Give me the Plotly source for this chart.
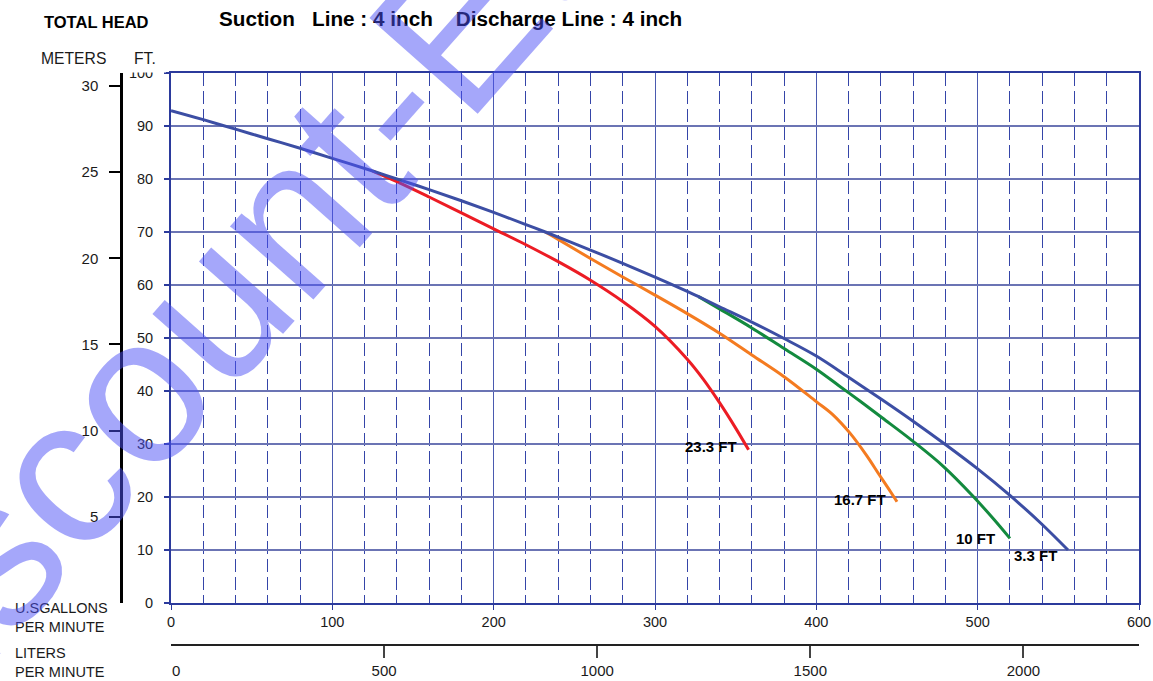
import plotly.graph_objects as go

# ---------------- data ----------------
gpm_ticks = [0, 100, 200, 300, 400, 500, 600]
ft_ticks = [0, 10, 20, 30, 40, 50, 60, 70, 80, 90, 100]
meter_ticks = [5, 10, 15, 20, 25, 30]
liter_ticks = [500, 1000, 1500, 2000]

# suction lift 3.3 FT
q_33 = [0, 20, 40, 60, 80, 100, 125, 140, 160, 180, 200, 220, 232, 260, 280, 300, 320, 327,
        340, 360, 380, 400, 420, 441, 460, 480, 500, 520, 539, 556]
h_33 = [92.9, 91.2, 89.4, 87.6, 85.8, 83.9, 81.5, 80.0, 78.0, 75.9, 73.7, 71.4, 70.0, 66.6, 64.1,
        61.5, 58.8, 57.8, 55.9, 53.0, 49.9, 46.6, 42.6, 38.3, 34.3, 29.9, 25.3, 20.3, 15.1, 10.0]
# suction lift 10 FT
q_10 = [327, 340, 360, 380, 400, 414, 427, 441, 460, 479, 497, 510, 520]
h_10 = [57.8, 55.5, 51.9, 48.0, 44.1, 41.0, 38.1, 34.9, 30.5, 25.7, 20.2, 15.8, 12.2]
# suction lift 16.7 FT
q_167 = [232, 240, 260, 280, 300, 320, 340, 360, 380, 400, 410, 421, 431, 439, 446, 450]
h_167 = [70.0, 68.6, 65.0, 61.5, 58.1, 54.6, 50.9, 46.8, 42.7, 38.0, 35.6, 32.0, 27.9, 24.2, 21.0, 19.1]
# suction lift 23.3 FT
q_233 = [125, 140, 160, 180, 200, 220, 240, 260, 280, 300, 320, 330, 340, 350, 358]
h_233 = [81.5, 79.5, 76.6, 73.6, 70.6, 67.6, 64.4, 60.9, 56.9, 52.2, 46.0, 42.2, 37.8, 33.0, 28.9]

series_names = ["23.3 FT", "16.7 FT", "10 FT", "3.3 FT"]
series_colors = ["#ec1c24", "#f47b20", "#138a3e", "#3c4ea4"]

L_PER_GAL = 3.78541
METER_TOP = 30.75  # meters scale top as drawn on the chart

# ---------------- layout helpers ----------------
W, H = 1153, 681
ML, MR, MT, MB = 0, 14, 73, 5
PW, PH = W - ML - MR, H - MT - MB


def px(x):
    return (x - ML) / PW


def py(y):
    return (H - MB - y) / PH


NAVY = "#2b3a9c"
FONT = "Liberation Sans, Arial, sans-serif"

fig = go.Figure()

curves = [(q_233, h_233), (q_167, h_167), (q_10, h_10), (q_33, h_33)]
for (q, h), name, col in zip(curves, series_names, series_colors):
    fig.add_trace(go.Scatter(x=q, y=h, mode="lines", name=name,
                             line=dict(color=col, width=3, shape="spline", smoothing=1.0),
                             showlegend=False, hoverinfo="skip"))

# dummy traces to attach secondary axes
fig.add_trace(go.Scatter(x=[None], y=[None], xaxis="x", yaxis="y2", showlegend=False, hoverinfo="skip"))
fig.add_trace(go.Scatter(x=[None], y=[None], xaxis="x2", yaxis="y", showlegend=False, hoverinfo="skip"))

x0dom = (171 - ML) / PW
ybot = py(603)

fig.update_layout(
    width=W, height=H, template="none",
    margin=dict(l=ML, r=MR, t=MT, b=MB),
    paper_bgcolor="white", plot_bgcolor="white",
    font=dict(family=FONT, color="#1a1a1a"),
    xaxis=dict(domain=[x0dom, 1], range=[0, 600], tickvals=gpm_ticks,
               showgrid=True, gridcolor="#4a5ab0", gridwidth=1.2,
               showline=True, linecolor=NAVY, linewidth=2, mirror=True,
               ticks="outside", ticklen=5, tickcolor=NAVY, tickwidth=1,
               tickfont=dict(size=14.5, color="#1a1a1a"), zeroline=False,
               minor=dict(dtick=20, tick0=0, showgrid=True, gridcolor="#3545a8",
                          griddash="13px,5px", gridwidth=1, ticks="")),
    yaxis=dict(domain=[ybot, 1], range=[0, 100], tickvals=ft_ticks,
               showgrid=True, gridcolor="#6b74b4", gridwidth=1.5,
               showline=True, linecolor=NAVY, linewidth=2, mirror=True,
               ticks="outside", ticklen=5, tickcolor=NAVY, tickwidth=1.5,
               ticklabelstandoff=8,
               tickfont=dict(size=14.5, color="#1a1a1a"), zeroline=False),
    yaxis2=dict(overlaying="y", anchor="free", position=(121 - ML) / PW, side="left",
                range=[0, METER_TOP], tickvals=meter_ticks, showgrid=False,
                showline=True, linecolor="black", linewidth=2.5,
                ticks="outside", ticklen=11, tickcolor="black", tickwidth=1.5,
                ticklabelstandoff=8,
                tickfont=dict(size=15, color="#1a1a1a"), zeroline=False),
    xaxis2=dict(overlaying="x", anchor="free", position=py(645), side="bottom",
                range=[0, 600 * L_PER_GAL], tickvals=liter_ticks, showgrid=False,
                showline=True, linecolor="#222", linewidth=2,
                ticks="outside", ticklen=12, tickcolor="#444", tickwidth=1.5,
                tickfont=dict(size=15, color="#1a1a1a"), zeroline=False),
)

# white mask over the upper half of the "100" ft label (it is clipped in the original)
fig.add_shape(type="rect", xref="paper", yref="paper",
              x0=px(128), x1=px(166), y0=py(72.5), y1=py(65),
              fillcolor="white", line=dict(width=0), layer="above")

ann = []
# curve end labels, anchored to curve endpoints
label_offsets = [(-10, 3), (-9, 2), (-13, 0), (-9, -5)]
for (q, h), name, (dx, dy) in zip(curves, series_names, label_offsets):
    ann.append(dict(x=q[-1], y=h[-1], xref="x", yref="y", text=name, showarrow=False,
                    xanchor="right", yanchor="middle", xshift=dx, yshift=dy,
                    font=dict(size=15, color="black", family=FONT, weight="bold")))

# liters zero label
ann.append(dict(x=0, y=py(670), xref="x2", yref="paper", text="0", showarrow=False,
                xanchor="center", yanchor="middle", xshift=5,
                font=dict(size=15, color="#1a1a1a", family=FONT)))

NB = "\u00a0"
ann += [
    dict(x=px(217), y=py(19), text=f"Suction{NB*3}Line : 4 inch{NB*4}Discharge Line : 4 inch",
         xanchor="left", font=dict(size=20.7, color="black", family=FONT, weight="bold")),
    dict(x=px(42), y=py(22), text="TOTAL HEAD", xanchor="left",
         font=dict(size=16.5, color="black", family=FONT, weight="bold")),
    dict(x=px(39), y=py(58), text="METERS", xanchor="left",
         font=dict(size=15.7, color="#1a1a1a", family=FONT)),
    dict(x=px(132), y=py(58), text="FT.", xanchor="left",
         font=dict(size=15.7, color="#1a1a1a", family=FONT)),
    dict(x=px(13), y=py(617), text="U.SGALLONS<br>PER MINUTE", xanchor="left", align="left",
         font=dict(size=14.5, color="#1a1a1a", family=FONT)),
    dict(x=px(13), y=py(662), text="LITERS<br>PER MINUTE", xanchor="left", align="left",
         font=dict(size=14.5, color="#1a1a1a", family=FONT)),
]
for a in ann[len(series_names) + 1:]:
    a.update(xref="paper", yref="paper", showarrow=False, yanchor="middle")

# watermark
ann.append(dict(x=px(450), y=py(35), xref="paper", yref="paper", text="Discount-Equipment",
                showarrow=False, xanchor="center", yanchor="middle", textangle=-48.5,
                font=dict(size=210, color="rgba(75,80,245,0.5)", family=FONT)))

fig.update_layout(annotations=ann)
fig.write_html("out.html", config={"displayModeBar": False},
               post_script="document.body.style.margin='0px';")
